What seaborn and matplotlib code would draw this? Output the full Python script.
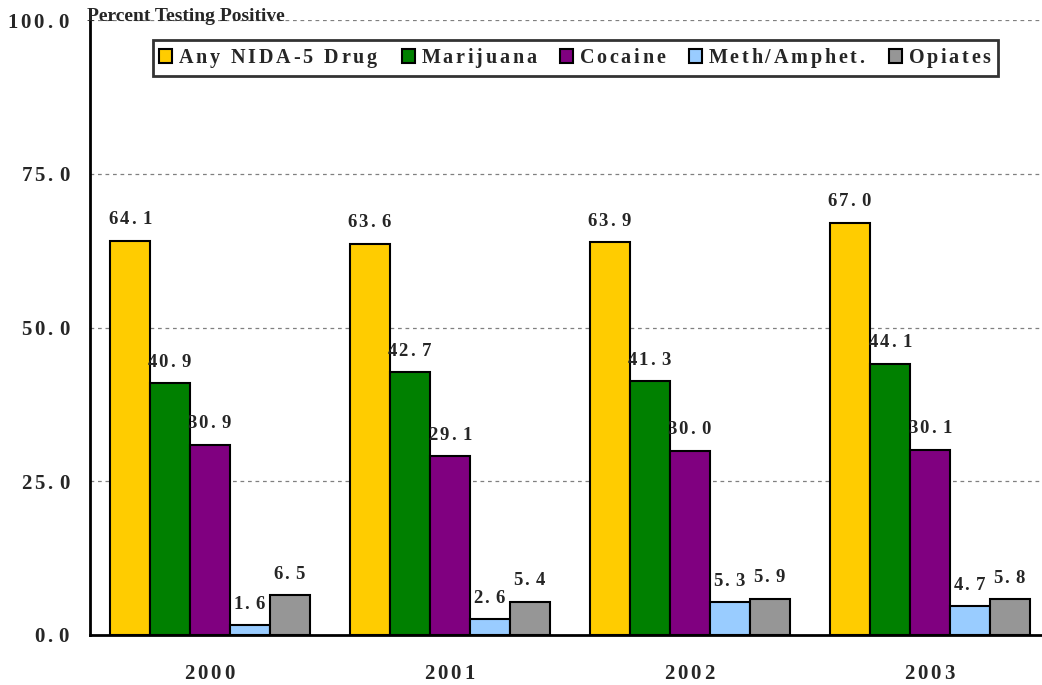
import matplotlib
matplotlib.use("Agg")
import matplotlib.pyplot as plt
import seaborn as sns
import pandas as pd
import numpy as np

years = ["2000", "2001", "2002", "2003"]
drugs = ["Any NIDA-5 Drug", "Marijuana", "Cocaine", "Meth/Amphet.", "Opiates"]
any_nida = [64.1, 63.6, 63.9, 67.0]
marijuana = [40.9, 42.7, 41.3, 44.1]
cocaine = [30.9, 29.1, 30.0, 30.1]
meth = [1.6, 2.6, 5.3, 4.7]
opiates = [6.5, 5.4, 5.9, 5.8]
colors = ["#FFCC00", "#008000", "#800080", "#99CCFF", "#969696"]

series = [any_nida, marijuana, cocaine, meth, opiates]
rows = []
for d, vals in zip(drugs, series):
    for y, v in zip(years, vals):
        rows.append({"Year": y, "Drug": d, "Value": v})
df = pd.DataFrame(rows)


def spaced(s):
    # letter-spaced text via mathtext thin spaces
    parts = []
    for ch in s:
        if ch == " ":
            parts.append(r"\ ")
        elif ch == "-":
            parts.append(r"\text{-}")
        else:
            parts.append(ch)
    out = r"\,".join(parts)
    return "$" + out + "$"


sns.set_style("white")
plt.rcParams['font.family'] = ['Liberation Serif', 'DejaVu Serif']
plt.rcParams['font.weight'] = 'bold'
plt.rcParams['mathtext.fontset'] = 'custom'
plt.rcParams['mathtext.rm'] = 'Liberation Serif:bold'
plt.rcParams['mathtext.it'] = 'Liberation Serif:bold'
plt.rcParams['mathtext.bf'] = 'Liberation Serif:bold'
plt.rcParams['mathtext.default'] = 'rm'

fig = plt.figure(figsize=(10.42, 6.85), dpi=100)
ax = fig.add_axes([90/1042, 1-635/685, 960/1042, 615/685])

sns.barplot(data=df, x="Year", y="Value", hue="Drug", hue_order=drugs, order=years,
            palette=colors, width=200/240, edgecolor="black", linewidth=1.5,
            saturation=1, ax=ax, legend=True, zorder=3)

ax.set_xlim(-0.5, 3.5)
ax.set_ylim(0, 100)
ax.set_yticks([0, 25, 50, 75, 100])
ax.set_yticklabels([spaced(t) for t in ["0.0", "25.0", "50.0", "75.0", "100.0"]],
                   fontsize=15)
ax.yaxis.grid(True, linestyle=(0, (3, 3)), color="#808080", linewidth=0.9, zorder=0)
ax.set_axisbelow(True)

ax.set_xticks([0, 1, 2, 3])
ax.set_xticklabels([spaced(y) for y in years], fontsize=15)
ax.tick_params(axis='x', which='major', length=0, pad=21)
ax.set_xticks([-0.5, 0.5, 1.5, 2.5], minor=True)
ax.tick_params(axis='x', which='minor', length=8, width=2, direction='out', color='black')
ax.tick_params(axis='y', length=8, width=2, direction='out', color='black', pad=6)

for s in ["top", "right"]:
    ax.spines[s].set_visible(False)
for s in ["left", "bottom"]:
    ax.spines[s].set_linewidth(2)
    ax.spines[s].set_color("black")
ax.set_xlabel("")
ax.set_ylabel("")

for cont in ax.containers:
    labels = [spaced(f"{v:.1f}") for v in cont.datavalues]
    ax.bar_label(cont, labels=labels, padding=9, fontsize=13.5)

handles, labs = ax.get_legend_handles_labels()
ax.get_legend().remove()
leg = fig.legend(handles, [spaced(l) for l in labs], loc="upper left",
                 bbox_to_anchor=(153/1042, 1-40/685, 845/1042, 0), mode="expand",
                 borderaxespad=0, ncol=5, frameon=True,
                 fontsize=14.5, handlelength=0.65, handleheight=0.65, handletextpad=0.3,
                 columnspacing=0.4, borderpad=0.3, fancybox=False, edgecolor="black")
leg.get_frame().set_linewidth(2)

fig.text(87/1042, 1-21/685, "Percent Testing Positive", fontsize=14, fontweight='bold',
         ha='left', va='baseline')

fig.savefig("out.png", dpi=100)
